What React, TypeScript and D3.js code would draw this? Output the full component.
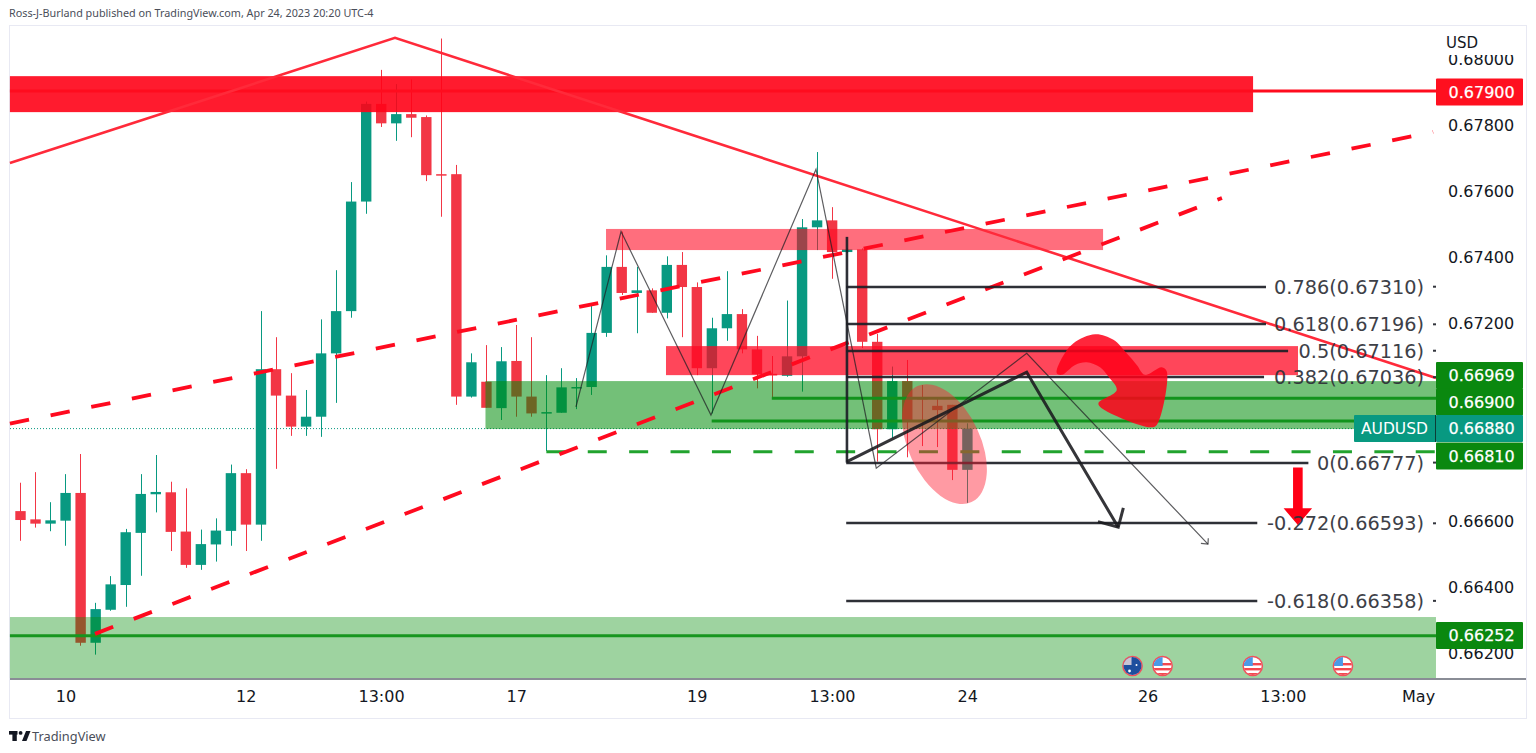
import React, { useEffect, useRef } from "react";
import * as d3 from "d3";

const opens = [0.6663,0.66605,0.66592,0.66601,0.66685,0.66231,0.66331,0.66406,0.66564,0.66681,0.66687,0.66568,0.66467,0.66529,0.6657,0.66745,0.66589,0.6706,0.6698,0.66886,0.66916,0.67108,0.67236,0.67568,0.67864,0.67805,0.67833,0.67824,0.67651,0.67651,0.66977,0.67022,0.66942,0.67085,0.66977,0.66927,0.66928,0.67004,0.67006,0.6717,0.6737,0.67291,0.67299,0.67231,0.67376,0.67309,0.67063,0.67184,0.67227,0.6712,0.67046,0.6704,0.67099,0.6749,0.67511,0.67415,0.67423,0.67143,0.66878,0.67024,0.66973,0.66949,0.66952,0.66755];
const highs = [0.66716,0.66748,0.66657,0.66742,0.66803,0.66352,0.66433,0.66576,0.66742,0.668,0.66719,0.66699,0.66574,0.66608,0.66771,0.66757,0.67236,0.67157,0.67048,0.66997,0.67211,0.6736,0.67627,0.67871,0.67967,0.67924,0.67938,0.67829,0.68062,0.67679,0.67108,0.67133,0.67127,0.67194,0.67157,0.67042,0.67063,0.67033,0.67252,0.67405,0.67477,0.6737,0.67305,0.67402,0.67415,0.67323,0.67216,0.67357,0.67242,0.67161,0.671,0.67268,0.67515,0.67718,0.67551,0.67427,0.67426,0.67167,0.67068,0.67088,0.67012,0.66973,0.66952,0.66896];
const lows = [0.6654,0.6658,0.66569,0.66525,0.66222,0.66195,0.66328,0.6634,0.66434,0.66626,0.66509,0.66458,0.66452,0.66477,0.66525,0.66509,0.6654,0.66758,0.66858,0.66858,0.66855,0.66958,0.67216,0.67531,0.67794,0.67752,0.67763,0.6763,0.67522,0.66952,0.66974,0.66943,0.66906,0.66916,0.66916,0.66812,0.66928,0.66939,0.66982,0.67158,0.67285,0.67169,0.67231,0.67214,0.67157,0.67042,0.66926,0.67146,0.67108,0.67002,0.66972,0.67037,0.66992,0.67421,0.67334,0.67412,0.67124,0.6678,0.66852,0.66793,0.66827,0.66824,0.66724,0.66655];
const closes = [0.66603,0.66592,0.66602,0.66685,0.66231,0.66333,0.66408,0.66566,0.66682,0.66688,0.66567,0.66467,0.6653,0.66571,0.66745,0.66589,0.6706,0.6698,0.66886,0.66916,0.67108,0.67236,0.67568,0.67864,0.67805,0.67833,0.67822,0.67648,0.67648,0.66977,0.67081,0.66943,0.67084,0.66977,0.66926,0.6693,0.67005,0.67006,0.6717,0.6737,0.67291,0.67299,0.67231,0.67376,0.67309,0.67063,0.67184,0.67227,0.6712,0.67045,0.67041,0.67099,0.6749,0.67511,0.67415,0.67423,0.67143,0.66878,0.67024,0.66901,0.6697,0.66936,0.66755,0.6688];

// 0.670 and 0.668 sit behind the price tags in the picture
const priceTicks = [0.662,0.664,0.666,0.672,0.674,0.676,0.678,0.68];
const timeBars = [3,15,24,33,45,54,63,75,84,93];
const timeLabels = ["10","12","13:00","17","19","13:00","24","26","13:00","May"];

// zones: bar from, bar to, price top, price bottom, fill
const zones: [number,number,number,number,string][] = [
  [-0.69,94.19,0.66309,0.66124,"rgba(0,139,5,0.38)"],
  [30.95,94.19,0.67024,0.66879,"rgba(0,140,9,0.55)"],
  [42.96,85.01,0.6713,0.67042,"rgba(255,8,35,0.75)"],
  [38.97,72.04,0.67485,0.67421,"rgba(255,13,38,0.6)"],
  [-0.69,82.02,0.67948,0.67839,"rgba(255,2,23,0.9)"],
];

const fibLevels = [0.6731,0.67196,0.67116,0.67036,0.66777,0.66593,0.66358];
const fibLabels = ["0.786(0.67310)","0.618(0.67196)","0.5(0.67116)","0.382(0.67036)","0(0.66777)","-0.272(0.66593)","-0.618(0.66358)"];
const fibEnds = [82.88,82.88,84.35,82.75,85.7,82.3,82.3];

const trendLine = [[-0.69,0.67685],[24.93,0.68064],[94.19,0.67033]];
const dashedUpper = [[-0.69,0.66895],[94,0.67779]];
const dashedLower = [[4.97,0.66258],[79.95,0.67579]];
const zigzag = [[36.97,0.66946],[39.97,0.67477],[45.95,0.66921],[52.94,0.67666],[56.95,0.6676],[66.96,0.67108],[79.02,0.6653]];
const zigzagHead = [[78.55,0.66532],[79.02,0.6653],[79.04,0.66548]];
const thickPath = [[55,0.6678],[66.96,0.67051],[73.05,0.66581]];
const thickHead = [[71.7,0.66598],[73.05,0.66581],[73.39,0.6664]];
const curvedArrow = [[68.96,0.67048],[69.29,0.67093],[70.07,0.67139],[71.51,0.67166],[72.73,0.67149],[73.61,0.67108],[74.28,0.67073],[74.83,0.67043],[75.94,0.67066],[76.28,0.67053],[75.61,0.66891],[75.17,0.66884],[71.95,0.66942],[71.73,0.66957],[72.95,0.66997],[72.39,0.67038],[71.84,0.67066],[70.95,0.67081],[70.18,0.67073],[69.29,0.67043]];
const downArrow = [[84.68,0.66762],[85.32,0.66762],[85.32,0.66639],[85.95,0.66639],[85,0.66588],[84.05,0.66639],[84.68,0.66639]];

const priceTags: [string,number,string][] = [
  ["0.67900",92,"#ff0f1f"],
  ["0.66969",375.5,"#0a880f"],
  ["0.66900",402,"#0a880f"],
  ["0.66810",456,"#0a880f"],
  ["0.66880",428.5,"#089981"],
  ["0.66252",635.5,"#0a880f"],
];
const newsEvents: [number,string][] = [[74,"au"],[76,"us"],[82,"us"],[88,"us"]];

const FONT = "'DejaVu Sans', sans-serif";

const App = () => {
  const chart = useRef<SVGSVGElement>(null);

  useEffect(() => {
    const svg = d3.select(chart.current);
    svg.selectAll("*").remove();

    const x = d3.scaleLinear().domain([0, 93]).range([20.3, 1418.1]);
    const y = d3.scaleLinear().domain([0.662, 0.68]).range([653, 59]);
    const line = d3.line<number[]>().x((d) => x(d[0])).y((d) => y(d[1]));

    const candles = opens.map((o, i) => ({ i, o, h: highs[i], l: lows[i], c: closes[i] }));
    const colour = (d) => (d.c >= d.o ? "#089981" : "#f23645");

    // frame
    svg.append("rect").attr("x", 9.5).attr("y", 25.5).attr("width", 1517).attr("height", 693)
      .attr("fill", "#fff").attr("stroke", "#e8e9f3");

    svg.append("text").attr("x", 9).attr("y", 17).attr("font-size", 10.8).attr("font-family", "'Noto Sans', sans-serif")
      .attr("fill", "#4a4e59").text("Ross-J-Burland published on TradingView.com, Apr 24, 2023 20:20 UTC-4");

    // candles
    const g = svg.append("g");
    g.selectAll("line.wick").data(candles).enter().append("line").attr("class", "wick")
      .attr("x1", (d) => Math.round(x(d.i)) + 0.5).attr("x2", (d) => Math.round(x(d.i)) + 0.5)
      .attr("y1", (d) => y(d.h)).attr("y2", (d) => y(d.l))
      .attr("stroke", colour).attr("stroke-width", 1);
    g.selectAll("rect.body").data(candles).enter().append("rect").attr("class", "body")
      .attr("x", (d) => x(d.i) - 5).attr("width", 10.4)
      .attr("y", (d) => y(Math.max(d.o, d.c)))
      .attr("height", (d) => Math.max(1.5, Math.abs(y(d.o) - y(d.c))))
      .attr("fill", colour);

    // last price
    svg.append("line").attr("x1", 10).attr("x2", x(94.19)).attr("y1", y(0.6688)).attr("y2", y(0.6688))
      .attr("stroke", "#089981").attr("stroke-dasharray", "1 2");

    // zones
    svg.selectAll("rect.zone").data(zones).enter().append("rect").attr("class", "zone")
      .attr("x", (d) => x(d[0])).attr("width", (d) => x(d[1]) - x(d[0]))
      .attr("y", (d) => y(d[2])).attr("height", (d) => y(d[3]) - y(d[2]))
      .attr("fill", (d) => d[4]);

    // horizontal levels
    const hline = (from: number, price: number, col: string, w: number, dash?: string) =>
      svg.append("line").attr("x1", x(from)).attr("x2", x(94.19)).attr("y1", y(price)).attr("y2", y(price))
        .attr("stroke", col).attr("stroke-width", w).attr("stroke-dasharray", dash ?? null);
    hline(-0.69, 0.67903, "#ff0c1e", 3);
    hline(-0.69, 0.66252, "#17961f", 3);
    hline(50, 0.66972, "#12931c", 3);
    hline(46, 0.66903, "#12931c", 3);
    hline(35, 0.6681, "#21a32e", 3, "19 22.4");

    // trend lines
    const stroke = (pts: number[][], col: string, w: number, dash?: string) =>
      svg.append("path").attr("d", line(pts)).attr("fill", "none").attr("stroke", col)
        .attr("stroke-width", w).attr("stroke-dasharray", dash ?? null);
    stroke(trendLine, "#ff2a3a", 2.6);
    stroke(dashedUpper, "#ff0a1f", 3.8, "19.5 22");
    stroke(dashedLower, "#ff0a1f", 3.8, "19.5 22");

    // fib
    svg.selectAll("line.fib").data(fibLevels).enter().append("line").attr("class", "fib")
      .attr("x1", x(54.95)).attr("x2", (d, i) => x(fibEnds[i]))
      .attr("y1", (d) => Math.round(y(d))).attr("y2", (d) => Math.round(y(d)))
      .attr("stroke", "#1d1f27").attr("stroke-width", 2.6).attr("opacity", 0.92);
    svg.append("line").attr("x1", x(55)).attr("x2", x(55)).attr("y1", y(0.67461)).attr("y2", y(0.66777))
      .attr("stroke", "#1d1f27").attr("stroke-width", 2.6).attr("opacity", 0.92);

    // ellipse
    svg.append("ellipse").attr("rx", 36).attr("ry", 64)
      .attr("transform", `translate(${x(61.49)},${y(0.66833)}) rotate(-25)`)
      .attr("fill", "rgba(255,30,50,0.45)");

    // arrows and pattern
    svg.append("path").attr("d", d3.line<number[]>().x((d) => x(d[0])).y((d) => y(d[1])).curve(d3.curveCatmullRomClosed.alpha(0.5))(curvedArrow))
      .attr("fill", "rgba(255,0,25,0.85)");
    svg.append("path").attr("d", line(downArrow) + "Z").attr("fill", "#ff0015");
    stroke(zigzag, "rgba(30,30,35,0.72)", 1.2);
    stroke(zigzagHead, "rgba(30,30,35,0.72)", 1.2);
    stroke(thickPath, "rgba(25,25,30,0.88)", 3);
    stroke(thickHead, "rgba(25,25,30,0.88)", 3);

    // fib labels
    svg.selectAll("text.fibLabel").data(fibLabels).enter().append("text").attr("class", "fibLabel")
      .attr("x", 1424).attr("y", (d, i) => y(fibLevels[i])).attr("dy", "0.36em")
      .attr("text-anchor", "end").attr("font-size", 19.3).attr("font-family", FONT)
      .attr("fill", "#2e3038").attr("opacity", 0.92).text((d) => d);
    svg.selectAll("rect.fibTick").data(fibLevels).enter().append("rect").attr("class", "fibTick")
      .attr("x", 1433).attr("width", 3).attr("height", 2).attr("y", (d) => y(d) - 1).attr("fill", "#33353d");

    // news flags
    const flags = svg.selectAll("g.flag").data(newsEvents).enter().append("g").attr("class", "flag")
      .attr("transform", (d) => `translate(${x(d[0])},666)`);
    const defs = svg.append("defs");
    defs.append("clipPath").attr("id", "flagClip").append("circle").attr("r", 9);
    flags.append("circle").attr("r", 9.6).attr("fill", "#fff").attr("stroke", "#f0505c").attr("stroke-width", 1.5);
    const us = flags.filter((d) => d[1] === "us").append("g").attr("clip-path", "url(#flagClip)");
    [-3, 2, 7].forEach((yy) => us.append("rect").attr("x", -10).attr("y", yy).attr("width", 20).attr("height", 2.4).attr("fill", "#f2484f"));
    us.append("rect").attr("x", -10).attr("y", -10).attr("width", 10).attr("height", 10).attr("fill", "#4a9ae8");
    const au = flags.filter((d) => d[1] === "au").append("g").attr("clip-path", "url(#flagClip)");
    au.append("rect").attr("x", -10).attr("y", -10).attr("width", 20).attr("height", 20).attr("fill", "#1d4f9e");
    au.append("rect").attr("x", -10).attr("y", -10).attr("width", 9).attr("height", 9).attr("fill", "#c9c4d4");
    au.append("circle").attr("cx", 4).attr("cy", -1).attr("r", 1).attr("fill", "#fff");
    au.append("circle").attr("cx", -3).attr("cy", 5).attr("r", 1.4).attr("fill", "#fff");

    // price axis
    const yAxis = svg.append("g").attr("transform", "translate(1436,0)")
      .call(d3.axisRight(y).tickValues(priceTicks).tickSize(0).tickPadding(12).tickFormat((d) => d3.format(".5f")(d)));
    yAxis.select(".domain").remove();
    yAxis.selectAll("text").attr("font-size", 16).attr("font-family", FONT).attr("fill", "#131722");

    svg.append("rect").attr("x", 1437).attr("y", 26).attr("width", 89).attr("height", 29).attr("fill", "#fff");
    svg.append("text").attr("x", 1446).attr("y", 48).attr("font-size", 15).attr("font-family", FONT).attr("fill", "#131722").text("USD");

    // price tags
    const tags = svg.selectAll("g.tag").data(priceTags).enter().append("g").attr("class", "tag")
      .attr("transform", (d) => `translate(1436,${d[1]})`);
    tags.append("rect").attr("y", -13.5).attr("width", 87).attr("height", 27).attr("fill", (d) => d[2]).attr("rx", 1);
    tags.append("text").attr("x", 12.5).attr("dy", "0.36em").attr("font-size", 16).attr("font-family", FONT)
      .attr("fill", "#fff").attr("stroke", "#fff").attr("stroke-width", 0.25).text((d) => d[0]);

    const sym = svg.append("g").attr("transform", "translate(1354,428.5)");
    sym.append("rect").attr("y", -13.5).attr("width", 82).attr("height", 27).attr("fill", "#089981").attr("rx", 1);
    sym.append("rect").attr("x", 81).attr("y", -13.5).attr("width", 1).attr("height", 27).attr("fill", "#0d3d36");
    sym.append("text").attr("x", 40.5).attr("dy", "0.36em").attr("text-anchor", "middle").attr("font-size", 15.5)
      .attr("font-family", FONT).attr("fill", "#fff").text("AUDUSD");

    // time axis
    svg.append("line").attr("x1", 10).attr("x2", 1526).attr("y1", 679).attr("y2", 679).attr("stroke", "#8a8d96").attr("stroke-width", 2);
    const xAxis = svg.append("g").attr("transform", "translate(0,679)")
      .call(d3.axisBottom(x).tickValues(timeBars).tickSize(0).tickPadding(12).tickFormat((d) => timeLabels[timeBars.indexOf(+d)]));
    xAxis.select(".domain").remove();
    xAxis.selectAll("text").attr("font-size", 16).attr("font-family", FONT).attr("fill", "#131722");

    // logo
    const logo = svg.append("g").attr("fill", "#131722").attr("transform", "translate(9,731)");
    logo.append("rect").attr("width", 8.5).attr("height", 3.6);
    logo.append("rect").attr("x", 3.4).attr("width", 4.4).attr("height", 10);
    logo.append("circle").attr("cx", 11.6).attr("cy", 1.9).attr("r", 1.9);
    logo.append("path").attr("d", "M13 10 L17 0 L21.5 0 L17.5 10 Z");
    svg.append("text").attr("x", 32).attr("y", 741).attr("font-size", 12.8).attr("font-family", "'Noto Sans', sans-serif")
      .attr("fill", "#4a4e59").text("TradingView");
  }, []);

  return (
    <div>
      <svg ref={chart} width={1536} height={753} style={{ position: "absolute", left: 0, top: 0, background: "#fff" }}></svg>
    </div>
  );
};

export default App;
